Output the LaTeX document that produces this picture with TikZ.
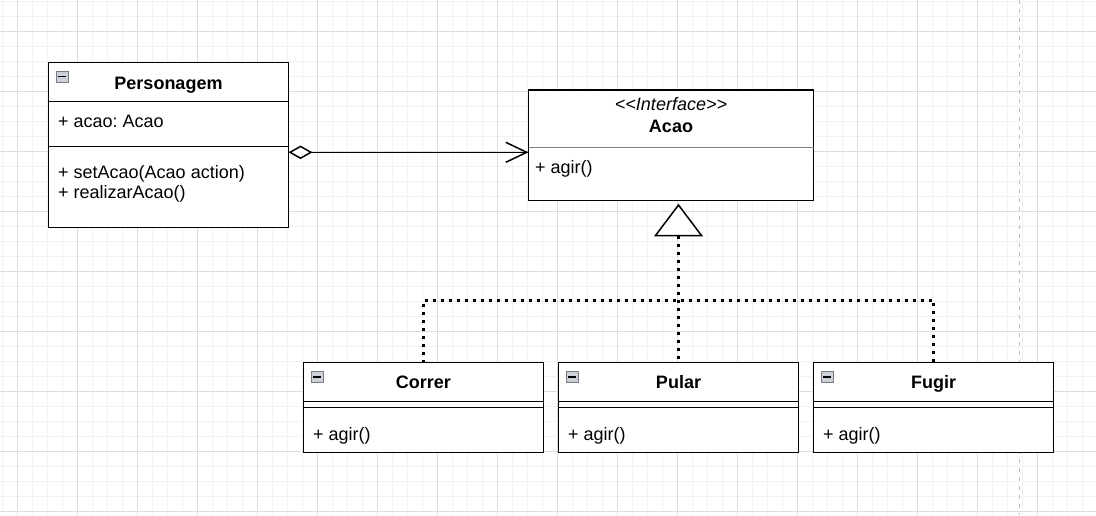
\documentclass[tikz,border=0pt]{standalone}
\usepackage{fontspec}
\setmainfont{Liberation Sans}
\usetikzlibrary{arrows.meta,calc}
\definecolor{gridmajor}{RGB}{221,221,221}
\definecolor{gridminor}{RGB}{242,242,242}
\definecolor{pagebreak}{RGB}{190,190,190}
\definecolor{divgray}{RGB}{128,128,128}
\definecolor{iconfill}{RGB}{205,208,214}
\definecolor{iconborder}{RGB}{120,124,132}
\frenchspacing
\begin{document}
\begin{tikzpicture}[x=1pt,y=-1pt,
  umlbox/.style={draw, line width=1.5pt, fill=white, inner sep=0pt, outer sep=0pt, anchor=north west},
  txt/.style={font=\fontsize{18pt}{21pt}\selectfont, inner sep=0pt, text=black},
  title/.style={txt, font=\fontsize{18pt}{21pt}\selectfont\bfseries, anchor=base},
  member/.style={txt, anchor=base west},
  divider/.style={line width=1.5pt},
  conn/.style={line width=1.5pt},
  realize/.style={line width=3pt, dash pattern=on 3pt off 5pt},
  minusicon/.pic={
    \draw[iconborder, fill=iconfill, line width=0.8pt] (0,0) rectangle (12,11);
    \draw[black, line width=1.6pt] (2,5.5) -- (10,5.5);
  }]
% background and grid
\fill[white] (0,0) rectangle (1096,515);
\useasboundingbox (0,0) rectangle (1096,515);
\foreach \x in {2,17,...,1096} \draw[gridminor, line width=1pt] (\x,0) -- (\x,515);
\foreach \y in {1.5,16.5,...,515} \draw[gridminor, line width=1pt] (0,\y) -- (1096,\y);
\foreach \x in {17,77,...,1096} \draw[gridmajor, line width=1pt] (\x,0) -- (\x,515);
\foreach \y in {31.5,91.5,...,515} \draw[gridmajor, line width=1pt] (0,\y) -- (1096,\y);
\draw[pagebreak, line width=1pt, dash pattern=on 4pt off 5pt] (1019,0) -- (1019,515);

% Personagem
\node[umlbox, minimum width=240pt, minimum height=165pt] (pers) at (48.5,62.5) {};
\draw[divider] ($(pers.north west)+(0,39)$) -- ($(pers.north east)+(0,39)$);
\draw[divider] ($(pers.north west)+(0,84)$) -- ($(pers.north east)+(0,84)$);
\pic at ($(pers.north west)+(7.5,8.5)$) {minusicon};
\node[title] (persT) at (168.5,89) {Personagem};
\node[member] (persA) at (58,127.5) {+ acao: Acao};
\node[member] (persM1) at (58,178.5) {+ setAcao(Acao action)};
\node[member] (persM2) at (58,198.5) {+ realizarAcao()};

% Acao interface
\node[umlbox, minimum width=285pt, minimum height=110.5pt] (acao) at (528.5,90) {};
\draw[divgray, line width=1pt] ($(acao.north west)+(0,57.3)$) -- ($(acao.north east)+(0,57.3)$);
\node[txt, font=\fontsize{18pt}{21pt}\selectfont\itshape, anchor=base] (acaoS) at (671,110) {<\kern0pt<Interface>\kern0pt>};
\node[title] (acaoT) at (671,132.3) {Acao};
\node[member] (acaoM) at (535,173.3) {+ agir()};

% concrete classes
\foreach \n/\t/\x in {corr/Correr/303.5, pul/Pular/558.5, fug/Fugir/813.5}{
  \node[umlbox, minimum width=240pt, minimum height=89.6pt] (\n) at (\x,362.7) {};
  \draw[divider] ($(\n.north west)+(0,38.6)$) -- ($(\n.north east)+(0,38.6)$);
  \draw[divider] ($(\n.north west)+(0,44.6)$) -- ($(\n.north east)+(0,44.6)$);
  \pic at ($(\n.north west)+(7.5,8.5)$) {minusicon};
  \node[title] (\n T) at ($(\n.north)+(0,26)$) {\t};
  \node[member] (\n M) at ($(\n.north west)+(9.5,77.3)$) {+ agir()};
}

% aggregation
\coordinate (aggy) at (0,152.3);
\draw[conn, {Diamond[fill=white,length=24pt,width=13.5pt]}-{Straight Barb[length=21pt,width=20pt]}] (pers.east |- aggy) -- (acao.west |- aggy);

% realization
\coordinate (triapex) at ($(pul.north |- acao.south)+(0,4.5)$);
\coordinate (tribase) at ($(triapex)+(0,30.5)$);
\coordinate (junc) at (pul.north |- 0,300);
\draw[realize] (tribase) -- (pul.north);
\draw[realize] (corr.north) |- (junc) -| (fug.north);
\draw[line width=1.5pt, fill=white] (triapex) -- ++(23,30.5) -- ++(-46,0) -- cycle;
\end{tikzpicture}
\end{document}
